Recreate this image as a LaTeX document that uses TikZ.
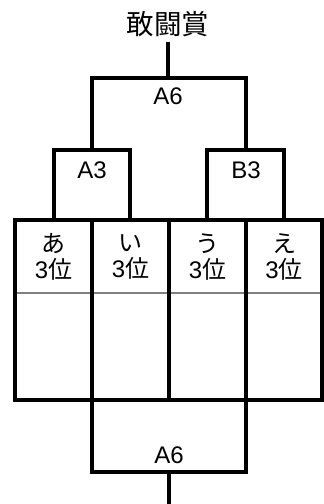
\documentclass[tikz,border=0pt]{standalone}
\usepackage{fontspec}
\setmainfont{Liberation Sans}
\newfontfamily\jpfont{Noto Sans CJK JP}
\usepackage{tikz}

\begin{document}
\begin{tikzpicture}[x=1pt,y=-1pt,
  bracket/.style={line width=3.6pt, line join=miter},
  txt/.style={inner sep=0pt, font=\fontsize{24}{25.5}\selectfont, align=center},
  ttl/.style={inner sep=5pt, font=\jpfont\fontsize{27.5}{27.5}\selectfont}]
  \useasboundingbox (0,0) rectangle (324,504);

  % ---- Title and final ----
  \node[ttl] (title) at (168,24) {敢闘賞};
  \coordinate (finalJoin) at (168,78);
  \draw[bracket] (title.south) -- (finalJoin);
  \draw[bracket] (92,150) -- (92,78) -- (246,78) -- (246,150);
  \node[txt] (finalA6) at (168,96) {A6};

  % ---- Semi finals ----
  \draw[bracket] (54,220) -- (54,150) -- (130,150) -- (130,220);
  \node[txt] (semiA3) at (92,170) {A3};
  \draw[bracket] (207,220) -- (207,150) -- (284,150) -- (284,220);
  \node[txt] (semiB3) at (246,170) {B3};

  % ---- Table of entries ----
  \draw[gray, line width=2pt] (15,293) -- (322,293);
  \draw[bracket] (15,220) rectangle (322,400);
  \draw[bracket] (92,220) -- (92,400);
  \draw[bracket] (169,220) -- (169,400);
  \draw[bracket] (246,220) -- (246,400);
  \node[txt] (entryA) at (53.5,257) {{\jpfont あ}\\3{\jpfont 位}};
  \node[txt] (entryI) at (130.5,257) {{\jpfont い}\\3{\jpfont 位}};
  \node[txt] (entryU) at (207.5,257) {{\jpfont う}\\3{\jpfont 位}};
  \node[txt] (entryE) at (284,257) {{\jpfont え}\\3{\jpfont 位}};

  % ---- Bottom bracket ----
  \draw[bracket] (92,400) -- (92,472) -- (246,472) -- (246,400);
  \node[txt] (bottomA6) at (169,455) {A6};
  \coordinate (bottomEnd) at (169,504);
  \draw[bracket] (169,472) -- (bottomEnd);
\end{tikzpicture}
\end{document}
